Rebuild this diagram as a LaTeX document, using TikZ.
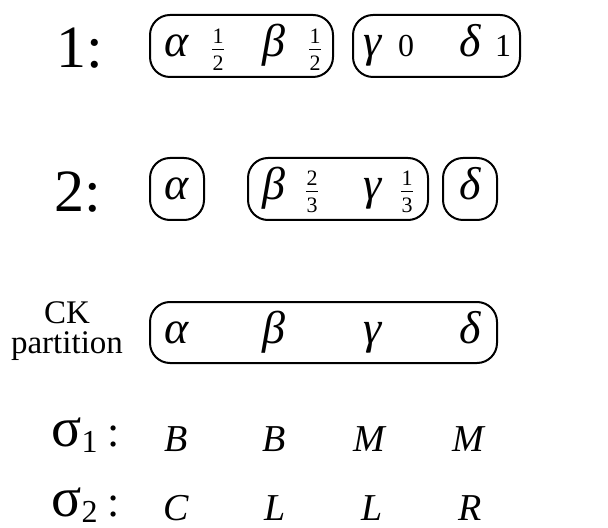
\documentclass[tikz,border=0pt]{standalone}
\usepackage{fontspec}
\setmainfont{Liberation Serif}
\usetikzlibrary{positioning}
\newcommand{\sig}[1]{σ\raisebox{-3pt}{\fontsize{16}{18}\selectfont #1}\hspace{5pt}{\fontsize{22}{24}\selectfont :}}
% weight fraction: name, x, y of bar, numerator, denominator
\newcommand{\wfrac}[5]{%
  \node[fbar] (#1b) at (#2,#3) {};
  \node[frc,above=2.5pt of #1b] (#1n) {#4};
  \node[frc,below=2.5pt of #1b] (#1d) {#5};}

\begin{document}
\begin{tikzpicture}[x=0.5pt,y=-0.5pt,
  grp/.style={draw,line width=1pt,rounded corners=10pt},
  elem/.style={anchor=base,inner sep=0pt,font=\fontsize{23}{27}\selectfont\itshape},
  frc/.style={inner sep=0pt,font=\fontsize{11}{13}\selectfont},
  fbar/.style={fill,inner sep=0pt,minimum width=6pt,minimum height=0.5pt},
  num/.style={anchor=base,inner sep=0pt,font=\fontsize{16}{18}\selectfont},
  lbl/.style={anchor=base,inner sep=0pt,font=\fontsize{30}{34}\selectfont},
  cklbl/.style={inner sep=0pt,align=center,font=\fontsize{16.5}{15}\selectfont},
  act/.style={anchor=base,inner sep=0pt,font=\fontsize{19}{21}\selectfont\itshape},
  siglbl/.style={anchor=base west,inner sep=0pt,font=\fontsize{28}{30}\selectfont}]
\useasboundingbox (0,0) rectangle (608,528);

% row 1
\node[lbl] (r1) at (80,68) {1:};
\node[elem] (a1) at (177,57) {α};
\wfrac{wa1}{218}{50}{1}{2}
\node[elem] (b1) at (274,57) {β};
\wfrac{wb1}{315}{50}{1}{2}
\node[elem] (c1) at (373,57) {γ};
\node[num] (wc1) at (406,57) {0};
\node[elem] (d1) at (470,57) {δ};
\node[num] (wd1) at (503,57) {1};
\draw[grp] (150,15) rectangle (333,77);
\draw[grp] (353,15) rectangle (520,77);

% row 2
\node[lbl] (r2) at (78,212) {2:};
\node[elem] (a2) at (177,200) {α};
\node[elem] (b2) at (274,200) {β};
\wfrac{wb2}{312}{192}{2}{3}
\node[elem] (c2) at (373,200) {γ};
\wfrac{wc2}{407}{192}{1}{3}
\node[elem] (d2) at (470,200) {δ};
\draw[grp] (150,158) rectangle (204,220);
\draw[grp] (248,158) rectangle (428,220);
\draw[grp] (443,158) rectangle (497,220);

% CK partition
\node[cklbl] (ck) at (67,331) {CK\\partition};
\node[elem] (a3) at (177,343) {α};
\node[elem] (b3) at (274,343) {β};
\node[elem] (c3) at (373,343) {γ};
\node[elem] (d3) at (470,343) {δ};
\draw[grp] (150,302) rectangle (497,363);

% strategies
\node[siglbl] (s1) at (51,446) {\sig{1}};
\node[act] (s1a) at (176,451) {B};
\node[act] (s1b) at (274,451) {B};
\node[act] (s1c) at (369,451) {M};
\node[act] (s1d) at (468,451) {M};
\node[siglbl] (s2) at (51,516) {\sig{2}};
\node[act] (s2a) at (176,520) {C};
\node[act] (s2b) at (275,520) {L};
\node[act] (s2c) at (372,520) {L};
\node[act] (s2d) at (470,520) {R};
\end{tikzpicture}
\end{document}
